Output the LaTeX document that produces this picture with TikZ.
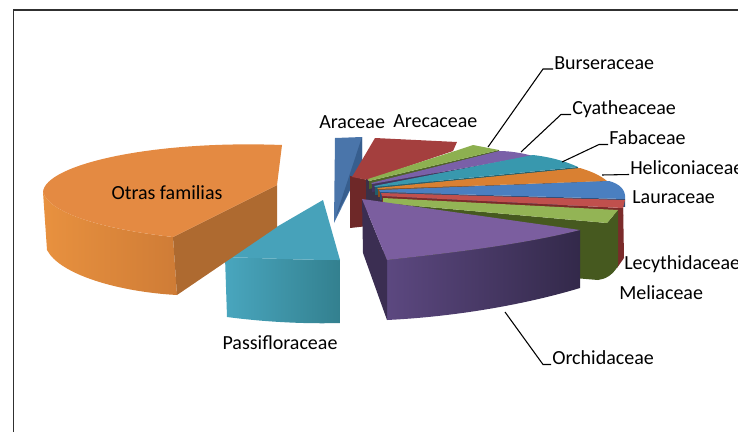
\documentclass[tikz,border=0pt]{standalone}
\usepackage{fontspec}
\setmainfont{Carlito}
\usepackage{xcolor}

\definecolor{frameline}{HTML}{303030}
\definecolor{araTop}{HTML}{4A75AA}
\definecolor{araSide}{HTML}{375E8E}
\definecolor{areTop}{HTML}{A43F3E}
\definecolor{areSide}{HTML}{6E2828}
\definecolor{apexDark}{HTML}{3B3148}
\definecolor{burTop}{HTML}{8DB050}
\definecolor{burSide}{HTML}{4F6228}
\definecolor{cyaTop}{HTML}{7A60A8}
\definecolor{cyaSide}{HTML}{43345F}
\definecolor{fabTop}{HTML}{3898AE}
\definecolor{fabSide}{HTML}{215E6C}
\definecolor{helTop}{HTML}{D98032}
\definecolor{helSide}{HTML}{8C4E1A}
\definecolor{lauTop}{HTML}{4A7FC0}
\definecolor{lauSide}{HTML}{2C4C75}
\definecolor{lecTop}{HTML}{C0504D}
\definecolor{lecSide}{HTML}{7B2B2A}
\definecolor{melTop}{HTML}{93B455}
\definecolor{melSide}{HTML}{46591F}
\definecolor{orcTop}{HTML}{7B5E9F}
\definecolor{orcSideL}{HTML}{5C4880}
\definecolor{orcSideR}{HTML}{33294A}
\definecolor{orcFace}{HTML}{3B2E52}
\definecolor{pasTop}{HTML}{47A2BA}
\definecolor{pasSideL}{HTML}{49A6BE}
\definecolor{pasSideR}{HTML}{33808F}
\definecolor{otrTop}{HTML}{E48A42}
\definecolor{otrSideL}{HTML}{E8913F}
\definecolor{otrSideR}{HTML}{CF7C36}
\definecolor{otrFace}{HTML}{AE6A30}

\tikzset{
  lbl/.style={inner sep=0.75pt, font=\fontsize{15}{18}\selectfont},
  lead/.style={line width=0.8pt},
}

\begin{document}
\begin{tikzpicture}[x=0.75pt,y=0.75pt,yscale=-1,xscale=1]
\useasboundingbox (0,0) rectangle (738,432);

\draw [frameline, line width=1pt] (13.5,432) -- (13.5,10) -- (738,10) ;

% Araceae
\fill [araTop] (335,138) -- (362,137) -- (362,166) -- (334,223) -- cycle ;
\fill [araSide] (362,137) -- (362,166) -- (336,216) -- cycle ;
% Arecaceae
\fill [areSide] (350,176) -- (368,180) -- (368,226) -- (350,228) -- cycle ;
\fill [areTop] (352,177) -- (375,138) -- (457,142) -- (453,151) -- (368,180) -- cycle ;
\fill [apexDark] (366,179) -- (384,190) -- (384,206) -- (366,206) -- cycle ;
% Burseraceae
\fill [burSide] (369,181) -- (499,150) -- (499,158) -- (369,189) -- cycle ;
\fill [burTop] (368,179) -- (455,151) -- (473,145) -- (499,150) -- (369,181) -- cycle ;
% Cyatheaceae
\fill [cyaSide] (372,184) -- (533,156) -- (533,164) -- (372,192) -- cycle ;
\fill [cyaTop] (371,183) -- (499,151) .. controls (510,151) and (522,153) .. (533,156) -- (372,184) -- cycle ;
% Fabaceae
\fill [fabSide] (375,187) -- (578,167) -- (578,175) -- (375,195) -- cycle ;
\fill [fabTop] (374,186) -- (533,155) .. controls (550,157) and (565,161) .. (578,167) -- (375,187) -- cycle ;
% Heliconiaceae
\fill [helSide] (378,189) -- (607,181) -- (607,189) -- (378,197) -- cycle ;
\fill [helTop] (377,188) -- (580,168) .. controls (590,171) and (600,175) .. (607,181) -- (378,189) -- cycle ;
% Lauraceae
\fill [lauSide] (380,192) -- (625,199) -- (625,207) -- (380,200) -- cycle ;
\fill [lauTop] (379,190) -- (609,181) .. controls (620,184) and (626,190) .. (625,199) -- (380,192) -- cycle ;
% Lecythidaceae
\fill [lecSide] (382,196) -- (623,208) -- (623,216) -- (382,204) -- cycle ;
\fill [lecSide] (617,211) -- (623,201) -- (624,258) -- (617,268) -- cycle ;
\fill [lecTop] (381,193) -- (625,200) -- (623,208) -- (382,196) -- cycle ;
% Meliaceae
\fill [melSide] (383,203) -- (607,223) -- (618,210) -- (618,266) .. controls (612,276) and (605,279) .. (598,280) -- (383,262) -- cycle ;
\fill [melTop] (383,198) -- (618,210) -- (607,223) -- (383,203) -- cycle ;
% Orchidaceae
\shade [left color=orcSideL, right color=orcSideR] (387,260) .. controls (450,253) and (520,245) .. (580,230) -- (580,288) .. controls (520,306) and (450,317) .. (387,320) -- cycle ;
\fill [orcFace] (362,199) -- (387,260) -- (387,320) -- (363,253) -- cycle ;
\fill [orcTop] (362,199) -- (580,230) .. controls (520,245) and (450,253) .. (387,260) -- cycle ;
% Passifloraceae
\shade [left color=pasSideL, right color=pasSideR] (225,257) -- (227,317) .. controls (265,322) and (305,324) .. (340,323) -- (340,260) .. controls (300,260) and (260,258) .. (225,257) -- cycle ;
\fill [pasTop] (323,200) -- (340,260) .. controls (300,260) and (260,258) .. (225,257) -- cycle ;
% Otras familias
\shade [left color=otrSideL, right color=otrSideR] (43,192) .. controls (50,215) and (110,230) .. (173,237) -- (177,295) .. controls (120,292) and (60,275) .. (47,250) -- cycle ;
\fill [otrFace] (173,237) -- (277,185) -- (277,227) -- (177,295) -- cycle ;
\fill [otrTop] (277,185) -- (173,237) .. controls (110,230) and (50,215) .. (43,192) .. controls (45,165) and (150,140) .. (282,145) -- cycle ;

% labels
\node [lbl, anchor=base west] (aralbl) at (318,128.5) {Araceae};
\node [lbl, anchor=base west] (arelbl) at (392,127) {Arecaceae};
\node [lbl, anchor=base west] (burlbl) at (553,69) {Burseraceae};
\node [lbl, anchor=base west] (cyalbl) at (571,114.5) {Cyatheaceae};
\node [lbl, anchor=base west] (fablbl) at (608,144.5) {Fabaceae};
\node [lbl, anchor=base west] (hellbl) at (629,174.5) {Heliconiaceae};
\node [lbl, anchor=base west] (laulbl) at (631,203.5) {Lauraceae};
\node [lbl, anchor=base west] (leclbl) at (623,269.5) {Lecythidaceae};
\node [lbl, anchor=base west] (mellbl) at (618,299.5) {Meliaceae};
\node [lbl, anchor=base west] (orclbl) at (551,364.5) {Orchidaceae};
\node [lbl, anchor=base] (paslbl) at (280,349.5) {Passifloraceae};
\node [lbl, anchor=base] (otrlbl) at (167,199.5) {Otras familias};

\coordinate (burpt) at (488,147);
\coordinate (cyapt) at (521,152);
\coordinate (fabpt) at (562,162);
\coordinate (helpt) at (602,175);
\coordinate (orcpt) at (505,312);

\draw [lead] (burlbl.base west) -- ++(-10,0) -- (burpt) ;
\draw [lead] (cyalbl.base west) -- ++(-10,0) -- (cyapt) ;
\draw [lead] (fablbl.base west) -- ++(-9,0) -- (fabpt) ;
\draw [lead] (hellbl.base west) -- (helpt) ;
\draw [lead] (orclbl.base west) -- ++(-8,0) -- (orcpt) ;

\end{tikzpicture}
\end{document}
